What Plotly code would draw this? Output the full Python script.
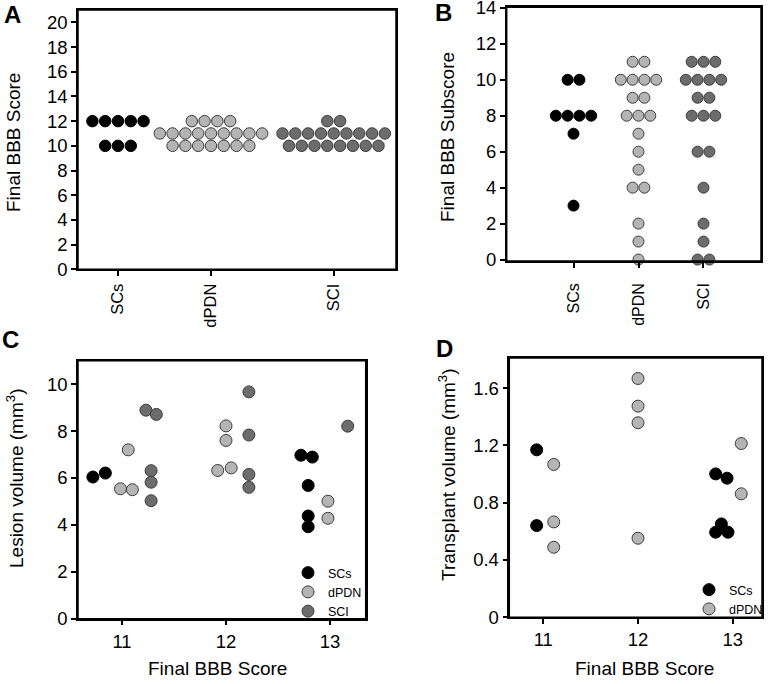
import plotly.graph_objects as go

# ---- data ----
groups = ['SCs', 'dPDN', 'SCI']

# A: final BBB score per animal
a_scs = [12, 12, 12, 12, 12, 10, 10, 10]
a_dpdn = [12, 12, 12, 12,
          11, 11, 11, 11, 11, 11, 11, 11, 11,
          10, 10, 10, 10, 10, 10, 10]
a_sci = [12, 12,
         11, 11, 11, 11, 11, 11, 11, 11, 11,
         10, 10, 10, 10, 10, 10, 10, 10]

# B: final BBB subscore per animal
b_scs = [10, 10, 8, 8, 8, 8, 7, 3]
b_dpdn = [11, 11, 10, 10, 10, 10, 9, 9, 8, 8, 8, 7, 6, 5, 4, 4, 2, 1, 0]
b_sci = [11, 11, 11, 10, 10, 10, 10, 9, 9, 8, 8, 8, 6, 6, 4, 2, 1, 0, 0]

# C: lesion volume vs final BBB score (x as plotted, with side offsets)
c_scs_x = [10.72, 10.84, 12.72, 12.83, 12.79, 12.79, 12.79]
c_scs_y = [6.04, 6.21, 6.97, 6.89, 5.68, 4.38, 3.92]
c_dpdn_x = [11.06, 10.985, 11.10, 12.0, 12.0, 11.92, 12.05, 12.98, 12.98]
c_dpdn_y = [7.20, 5.54, 5.50, 8.22, 7.60, 6.32, 6.43, 5.01, 4.28]
c_sci_x = [11.23, 11.33, 11.28, 11.28, 11.28, 12.22, 12.22, 12.22, 12.22, 13.17]
c_sci_y = [8.89, 8.71, 6.31, 5.82, 5.03, 9.67, 7.83, 6.15, 5.60, 8.21]

# D: transplant volume vs final BBB score
d_scs_x = [10.93, 10.93, 12.82, 12.94, 12.88, 12.82, 12.95]
d_scs_y = [1.169, 0.640, 1.001, 0.971, 0.652, 0.594, 0.594]
d_dpdn_x = [11.11, 11.11, 11.11, 12.0, 12.0, 12.0, 12.0, 13.09, 13.09]
d_dpdn_y = [1.067, 0.666, 0.489, 1.667, 1.474, 1.358, 0.552, 1.213, 0.862]

# ---- styles ----
FONT = 'Arial, Liberation Sans, sans-serif'
fill = {'SCs': '#000000', 'dPDN': '#b4b4b4', 'SCI': '#6c6c6c'}
edge = {'SCs': '#000000', 'dPDN': '#3c3c3c', 'SCI': '#3c3c3c'}
W, H = 771, 684


def swarm(values, center, step):
    # spread equal values side by side around the group centre
    counts = {v: values.count(v) for v in values}
    seen = {}
    xs = []
    for v in values:
        i = seen.get(v, 0)
        seen[v] = i + 1
        xs.append(center + (i - (counts[v] - 1) / 2) * step)
    return xs


def marker(g, size=11.5):
    return dict(size=size, color=fill[g], line=dict(color=edge[g], width=1))


fig = go.Figure()

# panel A
a_pos = [1, 2, 3.32]
for g, vals, p in zip(groups, [a_scs, a_dpdn, a_sci], a_pos):
    fig.add_trace(go.Scatter(x=swarm(vals, p, 0.1376), y=vals, mode='markers',
                             marker=marker(g), showlegend=False, cliponaxis=False,
                             xaxis='x', yaxis='y', name=g))

# panel B
b_pos = [1, 2, 3]
for g, vals, p in zip(groups, [b_scs, b_dpdn, b_sci], b_pos):
    fig.add_trace(go.Scatter(x=swarm(vals, p, 0.1815), y=vals, mode='markers',
                             marker=marker(g, 11), showlegend=False, cliponaxis=False,
                             xaxis='x2', yaxis='y2', name=g))

# panel C
for g, xs, ys in zip(groups, [c_scs_x, c_dpdn_x, c_sci_x], [c_scs_y, c_dpdn_y, c_sci_y]):
    fig.add_trace(go.Scatter(x=xs, y=ys, mode='markers', marker=marker(g, 12),
                             name=g, legend='legend', cliponaxis=False,
                             xaxis='x3', yaxis='y3'))

# panel D
for g, xs, ys in zip(groups[:2], [d_scs_x, d_dpdn_x], [d_scs_y, d_dpdn_y]):
    fig.add_trace(go.Scatter(x=xs, y=ys, mode='markers', marker=marker(g, 12),
                             name=g, legend='legend2', cliponaxis=False,
                             xaxis='x4', yaxis='y4'))

axis_style = dict(showline=True, linecolor='black', linewidth=1.5, mirror=True,
                  ticks='outside', ticklen=5, tickwidth=1.5, tickcolor='black',
                  showgrid=False, zeroline=False, automargin=False,
                  ticklabeloverflow='allow',
                  tickfont=dict(family=FONT, size=18.5, color='black'))


def dom(x0, x1, y0, y1):
    # pixel box -> paper domains (margins are zero)
    return [x0 / W, x1 / W], [1 - y1 / H, 1 - y0 / H]


ax_a, ay_a = dom(78, 396, 10, 269.3)
ax_b, ay_b = dom(506.7, 761, 7.3, 261)
ax_c, ay_c = dom(78, 365.7, 360.7, 618.7)
ax_d, ay_d = dom(509.3, 762, 358, 617.3)

legend_style = dict(xanchor='left', yanchor='top', bgcolor='rgba(0,0,0,0)',
                    font=dict(family=FONT, size=12.5, color='black'), tracegroupgap=0)

fig.update_layout(
    width=W, height=H,
    margin=dict(l=0, r=0, t=0, b=0),
    paper_bgcolor='white', plot_bgcolor='white',
    font=dict(family=FONT, color='black'),
    xaxis=dict(axis_style, domain=ax_a, anchor='y', range=[0.57, 3.99],
               tickvals=a_pos, ticktext=groups, tickangle=-90, ticklabelstandoff=1,
               tickfont=dict(family=FONT, size=16.5, color='black')),
    yaxis=dict(axis_style, domain=ay_a, anchor='x', range=[0, 21],
               tickvals=list(range(0, 21, 2))),
    xaxis2=dict(axis_style, domain=ax_b, anchor='y2', range=[-0.028, 3.885],
                tickvals=b_pos, ticktext=groups, tickangle=-90, ticklabelstandoff=9,
                tickfont=dict(family=FONT, size=16, color='black')),
    yaxis2=dict(axis_style, domain=ay_b, anchor='x2', range=[-0.08, 14.03],
                tickvals=list(range(0, 15, 2))),
    xaxis3=dict(axis_style, domain=ax_c, anchor='y3', range=[10.577, 13.343],
                tickvals=[11, 12, 13]),
    yaxis3=dict(axis_style, domain=ay_c, anchor='x3', range=[0, 11],
                tickvals=list(range(0, 11, 2))),
    xaxis4=dict(axis_style, domain=ax_d, anchor='y4', range=[10.641, 13.309],
                tickvals=[11, 12, 13]),
    yaxis4=dict(axis_style, domain=ay_d, anchor='x4', range=[0, 1.81],
                tickvals=[0, 0.4, 0.8, 1.2, 1.6], ticktext=['0', '0.4', '0.8', '1.2', '1.6']),
    legend=dict(legend_style, x=288 / W, y=1 - 558 / H),
    legend2=dict(legend_style, x=689 / W, y=1 - 575 / H),
)

# closed frame round every panel
for xa, ya in [('x', 'y'), ('x2', 'y2'), ('x3', 'y3'), ('x4', 'y4')]:
    fig.add_shape(type='rect', xref=xa + ' domain', yref=ya + ' domain',
                  x0=0, x1=1, y0=0, y1=1, layer='above',
                  line=dict(color='black', width=1.5))

# axis titles and panel letters
ann = []
for text, x, y in [('Final BBB Score', 14, 143), ('Final BBB Subscore', 447, 137),
                   ('Lesion volume (mm<sup>3</sup>)', 15, 478),
                   ('Transplant volume (mm<sup>3</sup>)', 447, 475)]:
    ann.append(dict(text=text, x=x / W, y=1 - y / H, xref='paper', yref='paper',
                    textangle=-90, showarrow=False, xanchor='center', yanchor='middle',
                    font=dict(family=FONT, size=19, color='black')))
for text, x, y in [('Final BBB Score', 217, 668), ('Final BBB Score', 644, 668)]:
    ann.append(dict(text=text, x=x / W, y=1 - y / H, xref='paper', yref='paper',
                    showarrow=False, xanchor='center', yanchor='middle',
                    font=dict(family=FONT, size=19, color='black')))
for text, x, y in [('A', 12.5, 14), ('B', 444, 13), ('C', 10, 339), ('D', 445, 348)]:
    ann.append(dict(text='<b>' + text + '</b>', x=x / W, y=1 - y / H, xref='paper',
                    yref='paper', showarrow=False, xanchor='center', yanchor='middle',
                    font=dict(family=FONT, size=24, color='black')))
fig.update_layout(annotations=ann)

# the page body has a default 8px margin; drop it so the figure fills the window
fig.write_html("out.html", config={'displayModeBar': False},
               post_script="document.body.style.margin='0px';")
